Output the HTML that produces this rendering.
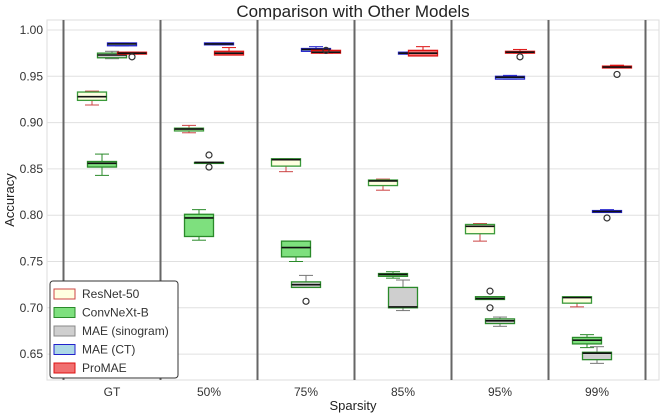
<!DOCTYPE html>
<html><head><meta charset="utf-8"><style>
body{margin:0;background:#fff;font-family:"Liberation Sans",sans-serif;}
svg text{font-family:"Liberation Sans",sans-serif;}
</style></head><body>
<svg id="c" width="662" height="413" viewBox="0 0 662 413" xmlns="http://www.w3.org/2000/svg">
<text x="353" y="17" font-size="17" text-anchor="middle" fill="#222">Comparison with Other Models</text>
<text x="14" y="200" font-size="13" text-anchor="middle" fill="#222" transform="rotate(-90 14 200)">Accuracy</text>
<text x="353" y="410" font-size="13" text-anchor="middle" fill="#222">Sparsity</text>
<g id="grid"></g><g id="marks"></g><g id="legend"></g>
</svg>
<script>
const categories=["GT","50%","75%","85%","95%","99%"];
const models=["ResNet-50","ConvNeXt-B","MAE (sinogram)","MAE (CT)","ProMAE"];
const yTicks=[1.00,0.95,0.90,0.85,0.80,0.75,0.70,0.65];
// [whislo,q1,med,q3,whishi] per category
const resnet=[[0.919,0.924,0.928,0.933,0.934],[0.889,0.891,0.893,0.894,0.897],[0.847,0.853,0.860,0.861,0.861],[0.827,0.832,0.837,0.838,0.839],[0.772,0.780,0.788,0.790,0.791],[0.701,0.705,0.711,0.712,0.712]];
const convnext=[[0.843,0.852,0.856,0.858,0.866],[0.773,0.777,0.797,0.801,0.806],[0.750,0.755,0.765,0.772,0.772],[0.732,0.734,0.736,0.737,0.739],[0.709,0.709,0.710,0.712,0.712],[0.657,0.661,0.665,0.668,0.671]];
const sinogram=[[0.969,0.970,0.973,0.975,0.977],[0.857,0.857,0.857,0.857,0.857],[0.722,0.722,0.725,0.728,0.735],[0.697,0.700,0.701,0.722,0.730],[0.680,0.683,0.686,0.688,0.690],[0.640,0.644,0.651,0.652,0.658]];
const maect=[[0.983,0.983,0.985,0.986,0.986],[0.984,0.984,0.985,0.986,0.986],[0.977,0.977,0.979,0.980,0.982],[0.974,0.974,0.975,0.976,0.976],[0.947,0.947,0.949,0.950,0.951],[0.803,0.803,0.804,0.805,0.806]];
const promae=[[0.974,0.974,0.975,0.976,0.976],[0.973,0.973,0.975,0.977,0.981],[0.975,0.975,0.976,0.978,0.978],[0.972,0.972,0.975,0.978,0.982],[0.975,0.975,0.976,0.977,0.979],[0.959,0.959,0.960,0.961,0.962]];
const fliersSino=[[],[0.865,0.852],[0.707],[],[],[]];
const fliersConv=[[],[],[],[],[0.718,0.700],[]];
const fliersCT=[[],[],[],[],[],[0.797]];
const fliersPro=[[0.971],[],[0.978],[],[0.971],[0.952]];
const series=[resnet,convnext,sinogram,maect,promae];
const fliers=[[[],[],[],[],[],[]],fliersConv,fliersSino,fliersCT,fliersPro];
const fills=["#ffffe0","#7ee07e","#cfcfcf","#add8e6","#f07070"];
const edges=["#3a9a3a","#2a8a2a","#2a8a2a","#2222cc","#dd1111"];
const whisk=["#cc4444","#2a8a2a","#777","#2222cc","#dd1111"];
const legEdge=["#cc4444","#2a8a2a","#888","#2222cc","#dd1111"];
const L=47,R=659,T=20,B=380;
const y=v=>30+(1.0-v)/0.05*46.3;
const x=i=>112+97*i;
const NS="http://www.w3.org/2000/svg";
function mk(p,t,a){const e=document.createElementNS(NS,t);for(const k in a)e.setAttribute(k,a[k]);p.appendChild(e);return e;}
const grid=document.getElementById('grid'),marks=document.getElementById('marks'),leg=document.getElementById('legend');
mk(grid,'rect',{x:L,y:T,width:R-L,height:B-T,fill:'#fff',stroke:'#ddd'});
yTicks.forEach(t=>{
 const l=mk(grid,'line',{x1:L,x2:R,y1:y(t),y2:y(t),stroke:'#e0e0e0'});
 
 
 const tx=mk(grid,'text',{x:L-4,y:y(t)+4,'font-size':12,'text-anchor':'end',fill:'#333'});
 tx.textContent=t.toFixed(2);
 
 
});
for(let i=0;i<=categories.length;i++){
 const sx=x(i)-48.5;
 const l=mk(grid,'line',{x1:sx,x2:sx,y1:T,y2:B,stroke:'#666','stroke-width':2});
 
 
}
categories.forEach((c,i)=>{
 const tx=mk(grid,'text',{x:x(i),y:396,'font-size':12,'text-anchor':'middle',fill:'#333'});
 tx.textContent=c;
 
 
});
const W=29;
series.forEach((s,m)=>{
 s.forEach((d,i)=>{
  const cx=x(i)+(m-2)*10;
  const g=mk(marks,'g',{});
  
  
  mk(g,'line',{x1:cx,x2:cx,y1:y(d[0]),y2:y(d[1]),stroke:whisk[m]});
  mk(g,'line',{x1:cx,x2:cx,y1:y(d[3]),y2:y(d[4]),stroke:whisk[m]});
  mk(g,'line',{x1:cx-7,x2:cx+7,y1:y(d[0]),y2:y(d[0]),stroke:whisk[m]});
  mk(g,'line',{x1:cx-7,x2:cx+7,y1:y(d[4]),y2:y(d[4]),stroke:whisk[m]});
  mk(g,'rect',{x:cx-W/2,y:y(d[3]),width:W,height:Math.max(1,y(d[1])-y(d[3])),fill:fills[m],stroke:edges[m],'stroke-width':1.3});
  mk(g,'line',{x1:cx-W/2,x2:cx+W/2,y1:y(d[2]),y2:y(d[2]),stroke:'#111','stroke-width':1.6});
  fliers[m][i].forEach(f=>{
   const c=mk(g,'circle',{cx:cx,cy:y(f),r:3,fill:'none',stroke:'#333','stroke-width':1.2});
   
   
  });
 });
});
const lg=mk(leg,'rect',{x:50,y:281,width:128,height:97,rx:3,fill:'#fff',stroke:'#333','stroke-width':1});


models.forEach((n,m)=>{
 const yy=289+m*18.5;
 const g=mk(leg,'g',{});
 
 
 mk(g,'rect',{x:54,y:yy,width:21,height:10,fill:fills[m],stroke:legEdge[m]});
 const t=mk(g,'text',{x:82,y:yy+9,'font-size':12,fill:'#333'});
 t.textContent=n;
});
</script>
</body></html>
